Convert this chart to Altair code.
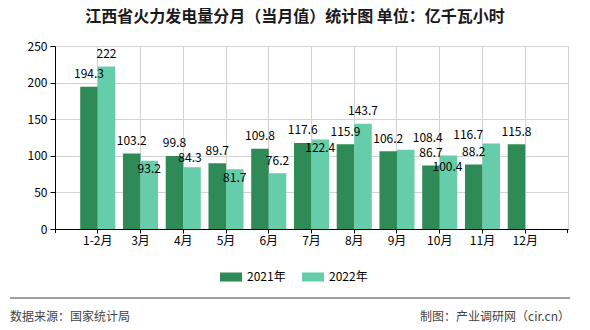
import altair as alt
import pandas as pd

months = ["1-2月", "3月", "4月", "5月", "6月", "7月", "8月", "9月", "10月", "11月", "12月"]
v2021 = [194.3, 103.2, 99.8, 89.7, 109.8, 117.6, 115.9, 106.2, 86.7, 88.2, 115.8]
v2022 = [222, 93.2, 84.3, 81.7, 76.2, 122.4, 143.7, 108.4, 100.4, 116.7, None]
y_ticks = [0, 50, 100, 150, 200, 250]
series = ["2021年", "2022年"]
colors = ["#2E8B57", "#66CDAA"]

# label nudges (pixels) for the 2022 labels, as placed in the reference
label_dx_2022 = [0, 0, -2, 0, 0, 0, 0, 22, -1, -23, 0]
label_dy_2022 = [-12.5, 8, -9, 8.5, -12, 9, -12.8, -12, 11, -9, 0]

W, H = 513, 183
PX_PER_UNIT = H / 250.0
FONT = "Noto Sans CJK SC"

rows = []
for i, m in enumerate(months):
    rows.append({"month": m, "series": series[0], "value": v2021[i],
                 "label": f"{v2021[i]:g}", "dx": 0, "ly": v2021[i] + 12.5 / PX_PER_UNIT})
    if v2022[i] is not None:
        rows.append({"month": m, "series": series[1], "value": v2022[i],
                     "label": f"{v2022[i]:g}", "dx": label_dx_2022[i],
                     "ly": v2022[i] - label_dy_2022[i] / PX_PER_UNIT})
df = pd.DataFrame(rows)

xscale = alt.Scale(domain=months, paddingInner=0.18, paddingOuter=0.59)
yscale = alt.Scale(domain=[0, 250], nice=False)

xaxis = alt.Axis(title=None, labelAngle=0, tickSize=4, labelPadding=2,
                 domainColor="black", tickColor="black", grid=True,
                 gridColor="#d3d3d3", labelColor="black", labelFontSize=12,
                 labelFont=FONT, bandPosition=0.5, labelOverlap=False)
yaxis = alt.Axis(title=None, values=y_ticks, tickSize=5, labelPadding=3,
                 domainColor="black", tickColor="black", grid=True,
                 gridColor="#d3d3d3", labelColor="black", labelFontSize=12,
                 labelFont=FONT, labelOverlap=False)

base = alt.Chart(df)

bars = base.mark_bar().encode(
    x=alt.X("month:N", sort=months, scale=xscale, axis=xaxis),
    xOffset=alt.XOffset("series:N", sort=series, scale=alt.Scale(domain=series)),
    y=alt.Y("value:Q", scale=yscale, axis=yaxis),
    color=alt.Color("series:N", sort=series,
                    scale=alt.Scale(domain=series, range=colors),
                    legend=alt.Legend(orient="none", legendX=165, legendY=220,
                                      direction="horizontal", title=None,
                                      symbolType="M-1,-0.41H1V0.41H-1Z", symbolSize=484,
                                      symbolStrokeWidth=0, labelFontSize=12,
                                      labelFont=FONT, labelColor="black",
                                      labelOffset=5, columnPadding=16, padding=0)),
)

label_layers = []
for dxv in sorted(set(df["dx"])):
    label_layers.append(
        base.transform_filter(alt.datum.dx == dxv).mark_text(
            fontSize=12, font=FONT, color="black", baseline="middle", dx=float(dxv)
        ).encode(
            x=alt.X("month:N", sort=months, scale=xscale, axis=xaxis),
            xOffset=alt.XOffset("series:N", sort=series, scale=alt.Scale(domain=series)),
            y=alt.Y("ly:Q", scale=yscale, axis=yaxis),
            text="label:N",
        )
    )

one = alt.Data(values=[{}])

title = alt.Chart(one).mark_text(
    text="江西省火力发电量分月（当月值）统计图 单位：亿千瓦小时",
    fontSize=16, fontWeight="bold", font=FONT, color="#1a1a1a",
    align="center", baseline="middle",
).encode(x=alt.value(240), y=alt.value(-29))

edge_ticks = [
    alt.Chart(one).mark_rule(color="black").encode(
        x=alt.value(0.5), y=alt.value(H), y2=alt.value(H + 4)),
    alt.Chart(one).mark_rule(color="black").encode(
        x=alt.value(W - 0.5), y=alt.value(H), y2=alt.value(H + 4)),
]

footer_line = alt.Chart(one).mark_rule(color="#808080", strokeWidth=1.5).encode(
    x=alt.value(-45), x2=alt.value(515), y=alt.value(252))

footer_left = alt.Chart(one).mark_text(
    text="数据来源：国家统计局", fontSize=12, font=FONT, color="#444444",
    align="left", baseline="middle",
).encode(x=alt.value(-45), y=alt.value(271))

footer_right = alt.Chart(one).mark_text(
    text="制图：产业调研网（cir.cn）", fontSize=12, font=FONT, color="#444444",
    align="right", baseline="middle",
).encode(x=alt.value(515), y=alt.value(271))

chart = alt.layer(
    bars, *label_layers, *edge_ticks, title, footer_line, footer_left, footer_right
).properties(
    width=W, height=H,
    autosize=alt.AutoSizeParams(type="none"),
    padding={"left": 55, "top": 46, "right": 22, "bottom": 101},
).configure_view(stroke="#d3d3d3")

chart.save("out.html", embed_options={"renderer": "svg", "actions": False})
